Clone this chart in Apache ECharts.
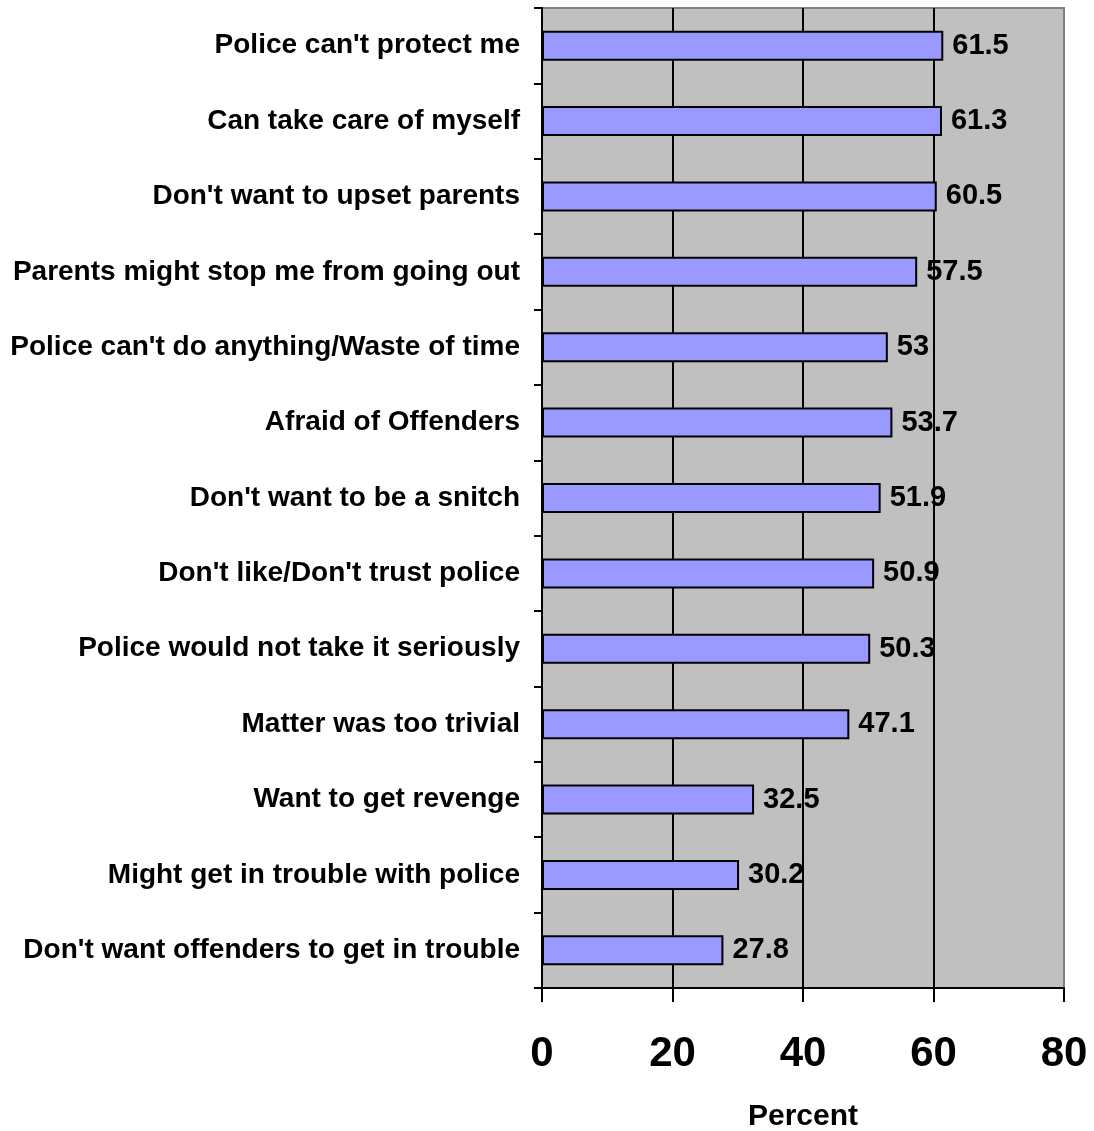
<!DOCTYPE html>
<html><head><meta charset="utf-8">
<script src="https://cdn.jsdelivr.net/npm/echarts@6/dist/echarts.min.js"></script>
<style>html,body{margin:0;padding:0;background:#fff}#c{width:1094px;height:1131px}</style>
</head><body><div id="c"></div>
<script>
const categories = [
  "Police can't protect me",
  "Can take care of myself",
  "Don't want to upset parents",
  "Parents might stop me from going out",
  "Police can't do anything/Waste of time",
  "Afraid of Offenders",
  "Don't want to be a snitch",
  "Don't like/Don't trust police",
  "Police would not take it seriously",
  "Matter was too trivial",
  "Want to get revenge",
  "Might get in trouble with police",
  "Don't want offenders to get in trouble"
];
const percentValues = [61.5, 61.3, 60.5, 57.5, 53, 53.7, 51.9, 50.9, 50.3, 47.1, 32.5, 30.2, 27.8];
const xTicks = [0, 20, 40, 60, 80];

const font = '"Liberation Sans", Arial, sans-serif';
const chart = echarts.init(document.getElementById('c'));
chart.setOption({
  animation: false,
  grid: {left: 542, right: 30, top: 8, bottom: 143, show: true, containLabel: false,
    outerBoundsMode: 'none',
    backgroundColor: '#c0c0c0', borderColor: '#808080', borderWidth: 2},
  xAxis: {
    type: 'value', min: xTicks[0], max: xTicks[xTicks.length-1], interval: 20,
    name: 'Percent', nameLocation: 'middle', nameGap: 114,
    nameTextStyle: {fontFamily: font, fontWeight: 'bold', fontSize: 30, color: '#000'},
    axisLine: {show: true, lineStyle: {color: '#000', width: 2}},
    axisTick: {show: true, length: 14, lineStyle: {color: '#000', width: 2}},
    axisLabel: {margin: 45, fontFamily: font, fontWeight: 'bold', fontSize: 42, color: '#000'},
    splitLine: {show: true, showMinLine: false, showMaxLine: false, lineStyle: {color: '#000', width: 2}}
  },
  yAxis: {
    type: 'category', data: categories, inverse: true,
    axisLine: {show: true, lineStyle: {color: '#000', width: 2}},
    axisTick: {show: true, length: 8, lineStyle: {color: '#000', width: 2}},
    axisLabel: {margin: 22, fontFamily: font, fontWeight: 'bold', fontSize: 28, color: '#000'},
    splitLine: {show: false}
  },
  series: [{
    type: 'bar', data: percentValues, barWidth: 30,
    itemStyle: {color: '#9999ff', borderColor: '#000', borderWidth: 2},
    label: {show: true, position: 'right', distance: 9, fontFamily: font,
      fontWeight: 'bold', fontSize: 29, color: '#000'}
  }]
});
</script></body></html>
